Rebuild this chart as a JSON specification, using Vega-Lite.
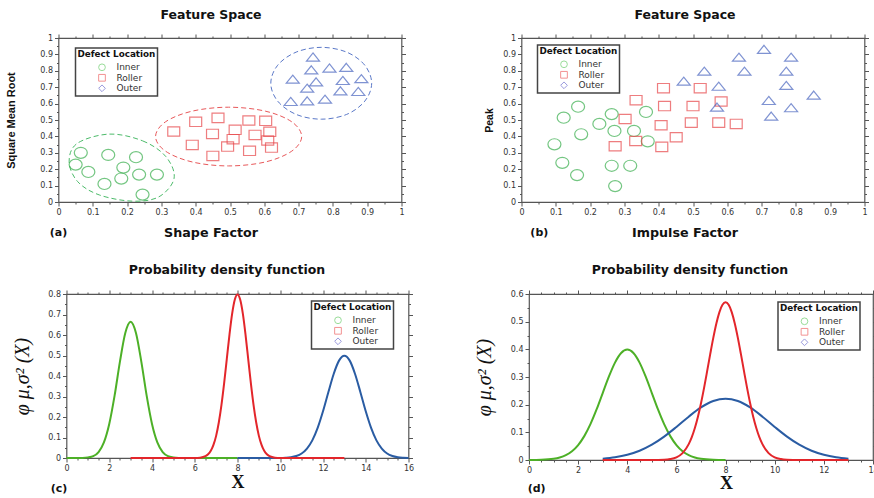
{
"$schema": "https://vega.github.io/schema/vega-lite/v6.json",
"padding": {"left": 4.5, "top": 8, "right": 0, "bottom": 0},
"background": "white",
"config": {
  "view": {"stroke": "#555", "strokeWidth": 1.2},
  "font": "DejaVu Sans",
  "axis": {"labelFont": "DejaVu Sans", "labelFontSize": 8, "labelColor": "#333", "tickColor": "#555", "tickWidth": 1, "domain": false, "grid": false, "labelOverlap": false, "labelFlush": false, "labelPadding": 2, "titleColor": "#111", "titleFontWeight": "bold"},
  "legend": {"titleFont": "DejaVu Sans", "titleFontSize": 8.8, "titleFontWeight": "bold", "titleColor": "#111", "labelFont": "DejaVu Sans", "labelFontSize": 9, "labelColor": "#333", "strokeColor": "#444", "strokeWidth": 1.5, "fillColor": "white", "padding": 2, "rowPadding": -0.5, "titlePadding": 4, "symbolSize": 45, "symbolStrokeWidth": 1, "symbolOffset": 20, "labelOffset": 10},
  "title": {"font": "DejaVu Sans", "fontSize": 12.5, "fontWeight": "bold", "color": "#111"}
},
"datasets": {
  "scatA": [
    {"loc": "Inner", "x": 0.065, "y": 0.30}, {"loc": "Inner", "x": 0.050, "y": 0.228}, {"loc": "Inner", "x": 0.087, "y": 0.183}, {"loc": "Inner", "x": 0.145, "y": 0.287}, {"loc": "Inner", "x": 0.134, "y": 0.110}, {"loc": "Inner", "x": 0.189, "y": 0.210}, {"loc": "Inner", "x": 0.183, "y": 0.143}, {"loc": "Inner", "x": 0.226, "y": 0.273}, {"loc": "Inner", "x": 0.235, "y": 0.167}, {"loc": "Inner", "x": 0.287, "y": 0.167}, {"loc": "Inner", "x": 0.245, "y": 0.045},
    {"loc": "Roller", "x": 0.336, "y": 0.430}, {"loc": "Roller", "x": 0.400, "y": 0.489}, {"loc": "Roller", "x": 0.465, "y": 0.513}, {"loc": "Roller", "x": 0.449, "y": 0.415}, {"loc": "Roller", "x": 0.390, "y": 0.348}, {"loc": "Roller", "x": 0.450, "y": 0.281}, {"loc": "Roller", "x": 0.515, "y": 0.440}, {"loc": "Roller", "x": 0.509, "y": 0.383}, {"loc": "Roller", "x": 0.493, "y": 0.338}, {"loc": "Roller", "x": 0.555, "y": 0.497}, {"loc": "Roller", "x": 0.573, "y": 0.409}, {"loc": "Roller", "x": 0.557, "y": 0.312}, {"loc": "Roller", "x": 0.604, "y": 0.495}, {"loc": "Roller", "x": 0.616, "y": 0.428}, {"loc": "Roller", "x": 0.610, "y": 0.375}, {"loc": "Roller", "x": 0.621, "y": 0.332},
    {"loc": "Outer", "x": 0.742, "y": 0.884}, {"loc": "Outer", "x": 0.737, "y": 0.806}, {"loc": "Outer", "x": 0.790, "y": 0.817}, {"loc": "Outer", "x": 0.839, "y": 0.821}, {"loc": "Outer", "x": 0.683, "y": 0.749}, {"loc": "Outer", "x": 0.751, "y": 0.733}, {"loc": "Outer", "x": 0.829, "y": 0.741}, {"loc": "Outer", "x": 0.883, "y": 0.752}, {"loc": "Outer", "x": 0.725, "y": 0.694}, {"loc": "Outer", "x": 0.822, "y": 0.678}, {"loc": "Outer", "x": 0.874, "y": 0.674}, {"loc": "Outer", "x": 0.677, "y": 0.613}, {"loc": "Outer", "x": 0.725, "y": 0.617}, {"loc": "Outer", "x": 0.777, "y": 0.627}
  ],
  "ellA": [
    {"loc": "Inner", "i": 0, "x": 0.148, "y": 0.414}, {"loc": "Inner", "i": 1, "x": 0.245, "y": 0.373}, {"loc": "Inner", "i": 2, "x": 0.313, "y": 0.277}, {"loc": "Inner", "i": 3, "x": 0.337, "y": 0.145}, {"loc": "Inner", "i": 4, "x": 0.293, "y": 0.032}, {"loc": "Inner", "i": 5, "x": 0.216, "y": 0.005}, {"loc": "Inner", "i": 6, "x": 0.119, "y": 0.043}, {"loc": "Inner", "i": 7, "x": 0.056, "y": 0.124}, {"loc": "Inner", "i": 8, "x": 0.031, "y": 0.246}, {"loc": "Inner", "i": 9, "x": 0.055, "y": 0.358},
    {"loc": "Roller", "i": 0, "x": 0.709, "y": 0.399}, {"loc": "Roller", "i": 1, "x": 0.680, "y": 0.489}, {"loc": "Roller", "i": 2, "x": 0.603, "y": 0.554}, {"loc": "Roller", "i": 3, "x": 0.496, "y": 0.578}, {"loc": "Roller", "i": 4, "x": 0.390, "y": 0.554}, {"loc": "Roller", "i": 5, "x": 0.312, "y": 0.489}, {"loc": "Roller", "i": 6, "x": 0.283, "y": 0.399}, {"loc": "Roller", "i": 7, "x": 0.312, "y": 0.310}, {"loc": "Roller", "i": 8, "x": 0.390, "y": 0.244}, {"loc": "Roller", "i": 9, "x": 0.496, "y": 0.220}, {"loc": "Roller", "i": 10, "x": 0.603, "y": 0.244}, {"loc": "Roller", "i": 11, "x": 0.680, "y": 0.310},
    {"loc": "Outer", "i": 0, "x": 0.913, "y": 0.724}, {"loc": "Outer", "i": 1, "x": 0.893, "y": 0.834}, {"loc": "Outer", "i": 2, "x": 0.840, "y": 0.914}, {"loc": "Outer", "i": 3, "x": 0.766, "y": 0.943}, {"loc": "Outer", "i": 4, "x": 0.693, "y": 0.914}, {"loc": "Outer", "i": 5, "x": 0.639, "y": 0.834}, {"loc": "Outer", "i": 6, "x": 0.619, "y": 0.724}, {"loc": "Outer", "i": 7, "x": 0.639, "y": 0.615}, {"loc": "Outer", "i": 8, "x": 0.693, "y": 0.534}, {"loc": "Outer", "i": 9, "x": 0.766, "y": 0.505}, {"loc": "Outer", "i": 10, "x": 0.840, "y": 0.534}, {"loc": "Outer", "i": 11, "x": 0.893, "y": 0.615}
  ],
  "scatB": [
    {"loc": "Inner", "x": 0.096, "y": 0.352}, {"loc": "Inner", "x": 0.123, "y": 0.514}, {"loc": "Inner", "x": 0.165, "y": 0.581}, {"loc": "Inner", "x": 0.174, "y": 0.413}, {"loc": "Inner", "x": 0.119, "y": 0.239}, {"loc": "Inner", "x": 0.162, "y": 0.164}, {"loc": "Inner", "x": 0.227, "y": 0.476}, {"loc": "Inner", "x": 0.263, "y": 0.536}, {"loc": "Inner", "x": 0.271, "y": 0.433}, {"loc": "Inner", "x": 0.328, "y": 0.433}, {"loc": "Inner", "x": 0.363, "y": 0.549}, {"loc": "Inner", "x": 0.368, "y": 0.370}, {"loc": "Inner", "x": 0.263, "y": 0.221}, {"loc": "Inner", "x": 0.317, "y": 0.221}, {"loc": "Inner", "x": 0.273, "y": 0.097},
    {"loc": "Roller", "x": 0.302, "y": 0.506}, {"loc": "Roller", "x": 0.334, "y": 0.621}, {"loc": "Roller", "x": 0.273, "y": 0.340}, {"loc": "Roller", "x": 0.333, "y": 0.372}, {"loc": "Roller", "x": 0.414, "y": 0.694}, {"loc": "Roller", "x": 0.417, "y": 0.585}, {"loc": "Roller", "x": 0.407, "y": 0.468}, {"loc": "Roller", "x": 0.409, "y": 0.336}, {"loc": "Roller", "x": 0.451, "y": 0.395}, {"loc": "Roller", "x": 0.521, "y": 0.694}, {"loc": "Roller", "x": 0.500, "y": 0.585}, {"loc": "Roller", "x": 0.495, "y": 0.484}, {"loc": "Roller", "x": 0.582, "y": 0.613}, {"loc": "Roller", "x": 0.575, "y": 0.484}, {"loc": "Roller", "x": 0.626, "y": 0.476},
    {"loc": "Outer", "x": 0.473, "y": 0.737}, {"loc": "Outer", "x": 0.533, "y": 0.798}, {"loc": "Outer", "x": 0.575, "y": 0.706}, {"loc": "Outer", "x": 0.570, "y": 0.579}, {"loc": "Outer", "x": 0.634, "y": 0.883}, {"loc": "Outer", "x": 0.650, "y": 0.798}, {"loc": "Outer", "x": 0.707, "y": 0.931}, {"loc": "Outer", "x": 0.786, "y": 0.883}, {"loc": "Outer", "x": 0.772, "y": 0.798}, {"loc": "Outer", "x": 0.772, "y": 0.711}, {"loc": "Outer", "x": 0.721, "y": 0.619}, {"loc": "Outer", "x": 0.728, "y": 0.524}, {"loc": "Outer", "x": 0.786, "y": 0.575}, {"loc": "Outer", "x": 0.852, "y": 0.652}
  ],
  "pdfC": [
    {"loc": "Inner", "x": 0, "y": 0}, {"loc": "Inner", "x": 0.5, "y": 0}, {"loc": "Inner", "x": 0.75, "y": 0.0006}, {"loc": "Inner", "x": 1, "y": 0.003}, {"loc": "Inner", "x": 1.25, "y": 0.009}, {"loc": "Inner", "x": 1.5, "y": 0.029}, {"loc": "Inner", "x": 1.75, "y": 0.076}, {"loc": "Inner", "x": 2, "y": 0.166}, {"loc": "Inner", "x": 2.25, "y": 0.304}, {"loc": "Inner", "x": 2.5, "y": 0.470}, {"loc": "Inner", "x": 2.75, "y": 0.610}, {"loc": "Inner", "x": 3, "y": 0.665}, {"loc": "Inner", "x": 3.25, "y": 0.610}, {"loc": "Inner", "x": 3.5, "y": 0.470}, {"loc": "Inner", "x": 3.75, "y": 0.304}, {"loc": "Inner", "x": 4, "y": 0.166}, {"loc": "Inner", "x": 4.25, "y": 0.076}, {"loc": "Inner", "x": 4.5, "y": 0.029}, {"loc": "Inner", "x": 4.75, "y": 0.009}, {"loc": "Inner", "x": 5, "y": 0.003}, {"loc": "Inner", "x": 5.25, "y": 0.0006}, {"loc": "Inner", "x": 5.5, "y": 0}, {"loc": "Inner", "x": 6, "y": 0}, {"loc": "Inner", "x": 7, "y": 0}, {"loc": "Inner", "x": 8, "y": 0},
    {"loc": "Outer", "x": 8, "y": 0}, {"loc": "Outer", "x": 9, "y": 0}, {"loc": "Outer", "x": 9.5, "y": 0.0001}, {"loc": "Outer", "x": 10, "y": 0.0004}, {"loc": "Outer", "x": 10.25, "y": 0.0014}, {"loc": "Outer", "x": 10.5, "y": 0.0038}, {"loc": "Outer", "x": 10.75, "y": 0.0096}, {"loc": "Outer", "x": 11, "y": 0.022}, {"loc": "Outer", "x": 11.25, "y": 0.046}, {"loc": "Outer", "x": 11.5, "y": 0.086}, {"loc": "Outer", "x": 11.75, "y": 0.147}, {"loc": "Outer", "x": 12, "y": 0.228}, {"loc": "Outer", "x": 12.25, "y": 0.321}, {"loc": "Outer", "x": 12.5, "y": 0.410}, {"loc": "Outer", "x": 12.75, "y": 0.475}, {"loc": "Outer", "x": 13, "y": 0.499}, {"loc": "Outer", "x": 13.25, "y": 0.475}, {"loc": "Outer", "x": 13.5, "y": 0.410}, {"loc": "Outer", "x": 13.75, "y": 0.321}, {"loc": "Outer", "x": 14, "y": 0.228}, {"loc": "Outer", "x": 14.25, "y": 0.147}, {"loc": "Outer", "x": 14.5, "y": 0.086}, {"loc": "Outer", "x": 14.75, "y": 0.046}, {"loc": "Outer", "x": 15, "y": 0.022}, {"loc": "Outer", "x": 15.25, "y": 0.0096}, {"loc": "Outer", "x": 15.5, "y": 0.0038}, {"loc": "Outer", "x": 15.75, "y": 0.0014}, {"loc": "Outer", "x": 16, "y": 0.0004},
    {"loc": "Roller", "x": 3, "y": 0}, {"loc": "Roller", "x": 4, "y": 0}, {"loc": "Roller", "x": 5, "y": 0}, {"loc": "Roller", "x": 6, "y": 0.0003}, {"loc": "Roller", "x": 6.25, "y": 0.0017}, {"loc": "Roller", "x": 6.5, "y": 0.0089}, {"loc": "Roller", "x": 6.625, "y": 0.018}, {"loc": "Roller", "x": 6.75, "y": 0.035}, {"loc": "Roller", "x": 6.875, "y": 0.064}, {"loc": "Roller", "x": 7, "y": 0.108}, {"loc": "Roller", "x": 7.125, "y": 0.173}, {"loc": "Roller", "x": 7.25, "y": 0.259}, {"loc": "Roller", "x": 7.375, "y": 0.365}, {"loc": "Roller", "x": 7.5, "y": 0.484}, {"loc": "Roller", "x": 7.625, "y": 0.602}, {"loc": "Roller", "x": 7.75, "y": 0.704}, {"loc": "Roller", "x": 7.875, "y": 0.773}, {"loc": "Roller", "x": 8, "y": 0.798}, {"loc": "Roller", "x": 8.125, "y": 0.773}, {"loc": "Roller", "x": 8.25, "y": 0.704}, {"loc": "Roller", "x": 8.375, "y": 0.602}, {"loc": "Roller", "x": 8.5, "y": 0.484}, {"loc": "Roller", "x": 8.625, "y": 0.365}, {"loc": "Roller", "x": 8.75, "y": 0.259}, {"loc": "Roller", "x": 8.875, "y": 0.173}, {"loc": "Roller", "x": 9, "y": 0.108}, {"loc": "Roller", "x": 9.125, "y": 0.064}, {"loc": "Roller", "x": 9.25, "y": 0.035}, {"loc": "Roller", "x": 9.375, "y": 0.018}, {"loc": "Roller", "x": 9.5, "y": 0.0089}, {"loc": "Roller", "x": 9.75, "y": 0.0017}, {"loc": "Roller", "x": 10, "y": 0.0003}, {"loc": "Roller", "x": 11, "y": 0}, {"loc": "Roller", "x": 12, "y": 0}, {"loc": "Roller", "x": 13, "y": 0}
  ],
  "pdfD": [
    {"loc": "Inner", "x": 0, "y": 0.0001}, {"loc": "Inner", "x": 0.5, "y": 0.0009}, {"loc": "Inner", "x": 1, "y": 0.0044}, {"loc": "Inner", "x": 1.25, "y": 0.0091}, {"loc": "Inner", "x": 1.5, "y": 0.0175}, {"loc": "Inner", "x": 1.75, "y": 0.0317}, {"loc": "Inner", "x": 2, "y": 0.054}, {"loc": "Inner", "x": 2.25, "y": 0.0863}, {"loc": "Inner", "x": 2.5, "y": 0.1295}, {"loc": "Inner", "x": 2.75, "y": 0.1826}, {"loc": "Inner", "x": 3, "y": 0.242}, {"loc": "Inner", "x": 3.25, "y": 0.3011}, {"loc": "Inner", "x": 3.5, "y": 0.352}, {"loc": "Inner", "x": 3.75, "y": 0.3867}, {"loc": "Inner", "x": 4, "y": 0.399}, {"loc": "Inner", "x": 4.25, "y": 0.3867}, {"loc": "Inner", "x": 4.5, "y": 0.352}, {"loc": "Inner", "x": 4.75, "y": 0.3011}, {"loc": "Inner", "x": 5, "y": 0.242}, {"loc": "Inner", "x": 5.25, "y": 0.1826}, {"loc": "Inner", "x": 5.5, "y": 0.1295}, {"loc": "Inner", "x": 5.75, "y": 0.0863}, {"loc": "Inner", "x": 6, "y": 0.054}, {"loc": "Inner", "x": 6.25, "y": 0.0317}, {"loc": "Inner", "x": 6.5, "y": 0.0175}, {"loc": "Inner", "x": 6.75, "y": 0.0091}, {"loc": "Inner", "x": 7, "y": 0.0044}, {"loc": "Inner", "x": 7.5, "y": 0.0009}, {"loc": "Inner", "x": 8, "y": 0.0001},
    {"loc": "Outer", "x": 3, "y": 0.0047}, {"loc": "Outer", "x": 3.5, "y": 0.0097}, {"loc": "Outer", "x": 4, "y": 0.0188}, {"loc": "Outer", "x": 4.5, "y": 0.0335}, {"loc": "Outer", "x": 5, "y": 0.0553}, {"loc": "Outer", "x": 5.5, "y": 0.0845}, {"loc": "Outer", "x": 6, "y": 0.1195}, {"loc": "Outer", "x": 6.5, "y": 0.1566}, {"loc": "Outer", "x": 7, "y": 0.1899}, {"loc": "Outer", "x": 7.5, "y": 0.2132}, {"loc": "Outer", "x": 8, "y": 0.2216}, {"loc": "Outer", "x": 8.5, "y": 0.2132}, {"loc": "Outer", "x": 9, "y": 0.1899}, {"loc": "Outer", "x": 9.5, "y": 0.1566}, {"loc": "Outer", "x": 10, "y": 0.1195}, {"loc": "Outer", "x": 10.5, "y": 0.0845}, {"loc": "Outer", "x": 11, "y": 0.0553}, {"loc": "Outer", "x": 11.5, "y": 0.0335}, {"loc": "Outer", "x": 12, "y": 0.0188}, {"loc": "Outer", "x": 12.5, "y": 0.0097}, {"loc": "Outer", "x": 13, "y": 0.0047},
    {"loc": "Roller", "x": 3, "y": 0}, {"loc": "Roller", "x": 4, "y": 0}, {"loc": "Roller", "x": 5, "y": 0.0001}, {"loc": "Roller", "x": 5.5, "y": 0.001}, {"loc": "Roller", "x": 5.75, "y": 0.0033}, {"loc": "Roller", "x": 6, "y": 0.0096}, {"loc": "Roller", "x": 6.25, "y": 0.025}, {"loc": "Roller", "x": 6.5, "y": 0.0574}, {"loc": "Roller", "x": 6.625, "y": 0.0828}, {"loc": "Roller", "x": 6.75, "y": 0.1158}, {"loc": "Roller", "x": 6.875, "y": 0.1567}, {"loc": "Roller", "x": 7, "y": 0.2054}, {"loc": "Roller", "x": 7.125, "y": 0.2609}, {"loc": "Roller", "x": 7.25, "y": 0.321}, {"loc": "Roller", "x": 7.375, "y": 0.3826}, {"loc": "Roller", "x": 7.5, "y": 0.4416}, {"loc": "Roller", "x": 7.625, "y": 0.4937}, {"loc": "Roller", "x": 7.75, "y": 0.5347}, {"loc": "Roller", "x": 7.875, "y": 0.5609}, {"loc": "Roller", "x": 8, "y": 0.5699}, {"loc": "Roller", "x": 8.125, "y": 0.5609}, {"loc": "Roller", "x": 8.25, "y": 0.5347}, {"loc": "Roller", "x": 8.375, "y": 0.4937}, {"loc": "Roller", "x": 8.5, "y": 0.4416}, {"loc": "Roller", "x": 8.625, "y": 0.3826}, {"loc": "Roller", "x": 8.75, "y": 0.321}, {"loc": "Roller", "x": 8.875, "y": 0.2609}, {"loc": "Roller", "x": 9, "y": 0.2054}, {"loc": "Roller", "x": 9.125, "y": 0.1567}, {"loc": "Roller", "x": 9.25, "y": 0.1158}, {"loc": "Roller", "x": 9.375, "y": 0.0828}, {"loc": "Roller", "x": 9.5, "y": 0.0574}, {"loc": "Roller", "x": 9.75, "y": 0.025}, {"loc": "Roller", "x": 10, "y": 0.0096}, {"loc": "Roller", "x": 10.25, "y": 0.0033}, {"loc": "Roller", "x": 10.5, "y": 0.001}, {"loc": "Roller", "x": 11, "y": 0.0001}, {"loc": "Roller", "x": 12, "y": 0}, {"loc": "Roller", "x": 13, "y": 0}
  ]
},
"columns": 1,
"align": "none",
"spacing": 23,
"concat": [
  {"spacing": 76, "hconcat": [
    {"width": 343, "height": 164,
     "title": {"text": "Feature Space", "offset": 12, "dx": -19},
     "resolve": {"scale": {"shape": "independent", "stroke": "independent"}, "axis": {"x": "independent", "y": "independent"}},
     "layer": [
       {"data": {"name": "ellA"},
        "mark": {"type": "line", "interpolate": "cardinal-closed", "strokeDash": [5, 3], "strokeWidth": 1},
        "encoding": {
          "x": {"field": "x", "type": "quantitative", "scale": {"domain": [0, 1], "nice": false}, "axis": {"orient": "top", "values": [0,0.05,0.1,0.15,0.2,0.25,0.3,0.35,0.4,0.45,0.5,0.55,0.6,0.65,0.7,0.75,0.8,0.85,0.9,0.95,1], "labels": false, "title": null, "tickSize": {"condition": {"test": "abs(datum.value*10-round(datum.value*10))>0.001", "value": 2}, "value": 4}}},
          "y": {"field": "y", "type": "quantitative", "scale": {"domain": [0, 1], "nice": false}, "axis": {"orient": "right", "values": [0,0.05,0.1,0.15,0.2,0.25,0.3,0.35,0.4,0.45,0.5,0.55,0.6,0.65,0.7,0.75,0.8,0.85,0.9,0.95,1], "labels": false, "title": null, "tickSize": {"condition": {"test": "abs(datum.value*10-round(datum.value*10))>0.001", "value": 2}, "value": 4}}},
          "stroke": {"field": "loc", "type": "nominal", "scale": {"domain": ["Inner", "Roller", "Outer"], "range": ["#4cbb6a", "#e8585a", "#5a78c8"]}, "legend": null},
          "order": {"field": "i", "type": "quantitative"}
        }},
       {"data": {"name": "scatA"},
        "mark": {"type": "point", "filled": false, "strokeWidth": 1.2, "size": 169},
        "encoding": {
          "x": {"field": "x", "type": "quantitative", "scale": {"domain": [0, 1], "nice": false}, "axis": {"orient": "bottom", "values": [0,0.05,0.1,0.15,0.2,0.25,0.3,0.35,0.4,0.45,0.5,0.55,0.6,0.65,0.7,0.75,0.8,0.85,0.9,0.95,1], "format": "~g", "labelExpr": "abs(datum.value*10-round(datum.value*10))>0.001 ? '' : datum.label", "tickSize": {"condition": {"test": "abs(datum.value*10-round(datum.value*10))>0.001", "value": 2}, "value": 4}, "title": "Shape Factor", "titleFont": "DejaVu Sans", "titleFontSize": 12.7, "titlePadding": 10, "titleX": 152}},
          "y": {"field": "y", "type": "quantitative", "scale": {"domain": [0, 1], "nice": false}, "axis": {"orient": "left", "values": [0,0.05,0.1,0.15,0.2,0.25,0.3,0.35,0.4,0.45,0.5,0.55,0.6,0.65,0.7,0.75,0.8,0.85,0.9,0.95,1], "format": "~g", "labelExpr": "abs(datum.value*10-round(datum.value*10))>0.001 ? '' : datum.label", "tickSize": {"condition": {"test": "abs(datum.value*10-round(datum.value*10))>0.001", "value": 2}, "value": 4}, "title": "Square Mean Root", "titleFont": "Liberation Sans", "titleFontSize": 11, "titlePadding": 23.5}},
          "shape": {"field": "loc", "type": "nominal", "scale": {"domain": ["Inner", "Roller", "Outer"], "range": ["M-1,0A1,0.85,0,1,1,1,0A1,0.85,0,1,1,-1,0Z", "M-0.92,-0.72H0.92V0.72H-0.92Z", "M0,-0.62L1,0.62L-1,0.62Z"]}, "legend": null},
          "stroke": {"field": "loc", "type": "nominal", "scale": {"domain": ["Inner", "Roller", "Outer"], "range": ["#3aaf4e", "#e8474a", "#4a66c0"]}, "legend": null}
        }},
       {"data": {"values": []},
        "mark": {"type": "point", "filled": false, "strokeWidth": 1},
        "encoding": {
          "shape": {"field": "loc", "type": "nominal", "scale": {"domain": ["Inner", "Roller", "Outer"], "range": ["circle", "square", "diamond"]}, "legend": {"title": "Defect Location", "orient": "none", "legendX": 17, "legendY": 10}},
          "stroke": {"field": "loc", "type": "nominal", "scale": {"domain": ["Inner", "Roller", "Outer"], "range": ["#6fcf6f", "#ee6666", "#7070d0"]}, "legend": {"title": "Defect Location", "orient": "none", "legendX": 17, "legendY": 10}}
        }},
       {"data": {"values": [{}]},
        "mark": {"type": "text", "font": "DejaVu Sans", "fontSize": 11, "fontWeight": "bold", "color": "#111", "baseline": "middle"},
        "encoding": {
          "x": {"datum": 0, "type": "quantitative", "scale": {"domain": [0, 1], "nice": false}, "axis": null},
          "y": {"datum": -0.19, "type": "quantitative", "scale": {"domain": [0, 1], "nice": false}, "axis": null},
          "text": {"value": "(a)"}
        }}
     ]},
    {"width": 343, "height": 164,
     "title": {"text": "Feature Space", "offset": 12, "dx": -8},
     "resolve": {"scale": {"shape": "independent", "stroke": "independent"}, "axis": {"x": "independent", "y": "independent"}},
     "layer": [
       {"data": {"name": "scatB"},
        "mark": {"type": "point", "filled": false, "strokeWidth": 1.2, "size": 169},
        "encoding": {
          "x": {"field": "x", "type": "quantitative", "scale": {"domain": [0, 1], "nice": false}, "axis": {"orient": "bottom", "values": [0,0.05,0.1,0.15,0.2,0.25,0.3,0.35,0.4,0.45,0.5,0.55,0.6,0.65,0.7,0.75,0.8,0.85,0.9,0.95,1], "format": "~g", "labelExpr": "abs(datum.value*10-round(datum.value*10))>0.001 ? '' : datum.label", "tickSize": {"condition": {"test": "abs(datum.value*10-round(datum.value*10))>0.001", "value": 2}, "value": 4}, "title": "Impulse Factor", "titleFont": "DejaVu Sans", "titleFontSize": 12.7, "titlePadding": 10, "titleX": 163}},
          "y": {"field": "y", "type": "quantitative", "scale": {"domain": [0, 1], "nice": false}, "axis": {"orient": "left", "values": [0,0.05,0.1,0.15,0.2,0.25,0.3,0.35,0.4,0.45,0.5,0.55,0.6,0.65,0.7,0.75,0.8,0.85,0.9,0.95,1], "format": "~g", "labelExpr": "abs(datum.value*10-round(datum.value*10))>0.001 ? '' : datum.label", "tickSize": {"condition": {"test": "abs(datum.value*10-round(datum.value*10))>0.001", "value": 2}, "value": 4}, "title": "Peak", "titleFont": "Liberation Sans", "titleFontSize": 10.5, "titlePadding": 8}},
          "shape": {"field": "loc", "type": "nominal", "scale": {"domain": ["Inner", "Roller", "Outer"], "range": ["M-1,0A1,0.85,0,1,1,1,0A1,0.85,0,1,1,-1,0Z", "M-0.92,-0.72H0.92V0.72H-0.92Z", "M0,-0.62L1,0.62L-1,0.62Z"]}, "legend": null},
          "stroke": {"field": "loc", "type": "nominal", "scale": {"domain": ["Inner", "Roller", "Outer"], "range": ["#3aaf4e", "#e8474a", "#4a66c0"]}, "legend": null}
        }},
       {"data": {"values": []},
        "mark": {"type": "point", "filled": false, "strokeWidth": 1},
        "encoding": {
          "x": {"field": "x", "type": "quantitative", "scale": {"domain": [0, 1], "nice": false}, "axis": {"orient": "top", "values": [0,0.05,0.1,0.15,0.2,0.25,0.3,0.35,0.4,0.45,0.5,0.55,0.6,0.65,0.7,0.75,0.8,0.85,0.9,0.95,1], "labels": false, "title": null, "tickSize": {"condition": {"test": "abs(datum.value*10-round(datum.value*10))>0.001", "value": 2}, "value": 4}}},
          "y": {"field": "y", "type": "quantitative", "scale": {"domain": [0, 1], "nice": false}, "axis": {"orient": "right", "values": [0,0.05,0.1,0.15,0.2,0.25,0.3,0.35,0.4,0.45,0.5,0.55,0.6,0.65,0.7,0.75,0.8,0.85,0.9,0.95,1], "labels": false, "title": null, "tickSize": {"condition": {"test": "abs(datum.value*10-round(datum.value*10))>0.001", "value": 2}, "value": 4}}},
          "shape": {"field": "loc", "type": "nominal", "scale": {"domain": ["Inner", "Roller", "Outer"], "range": ["circle", "square", "diamond"]}, "legend": {"title": "Defect Location", "orient": "none", "legendX": 16, "legendY": 7}},
          "stroke": {"field": "loc", "type": "nominal", "scale": {"domain": ["Inner", "Roller", "Outer"], "range": ["#6fcf6f", "#ee6666", "#7070d0"]}, "legend": {"title": "Defect Location", "orient": "none", "legendX": 16, "legendY": 7}}
        }},
       {"data": {"values": [{}]},
        "mark": {"type": "text", "font": "DejaVu Sans", "fontSize": 11, "fontWeight": "bold", "color": "#111", "baseline": "middle"},
        "encoding": {
          "x": {"datum": 0.052, "type": "quantitative", "scale": {"domain": [0, 1], "nice": false}, "axis": null},
          "y": {"datum": -0.19, "type": "quantitative", "scale": {"domain": [0, 1], "nice": false}, "axis": null},
          "text": {"value": "(b)"}
        }}
     ]}
  ]},
  {"spacing": -54, "hconcat": [
    {"width": 7, "height": 1, "data": {"values": []}, "mark": "point", "view": {"stroke": null}},
    {"spacing": 59.5, "hconcat": [
      {"width": 342, "height": 164,
       "title": {"text": "Probability density function", "offset": 13, "dx": -10.5},
       "resolve": {"scale": {"shape": "independent", "stroke": "independent"}, "axis": {"x": "independent", "y": "independent"}},
       "layer": [
         {"data": {"name": "pdfC"},
          "mark": {"type": "line", "interpolate": "monotone", "strokeWidth": 2},
          "encoding": {
            "x": {"field": "x", "type": "quantitative", "scale": {"domain": [0, 16], "nice": false}, "axis": {"orient": "bottom", "values": [0,0.5,1,1.5,2,2.5,3,3.5,4,4.5,5,5.5,6,6.5,7,7.5,8,8.5,9,9.5,10,10.5,11,11.5,12,12.5,13,13.5,14,14.5,15,15.5,16], "format": "~g", "labelExpr": "datum.value%2!=0 ? '' : datum.label", "tickSize": {"condition": {"test": "datum.value%2!=0", "value": 2}, "value": 4}, "title": "X", "titleFont": "Liberation Serif", "titleFontSize": 18, "titlePadding": 1}},
            "y": {"field": "y", "type": "quantitative", "scale": {"domain": [0, 0.8], "nice": false}, "axis": {"orient": "left", "values": [0,0.05,0.1,0.15,0.2,0.25,0.3,0.35,0.4,0.45,0.5,0.55,0.6,0.65,0.7,0.75,0.8], "format": "~g", "labelExpr": "abs(datum.value*10-round(datum.value*10))>0.001 ? '' : datum.label", "tickSize": {"condition": {"test": "abs(datum.value*10-round(datum.value*10))>0.001", "value": 2}, "value": 4}, "title": "φ μ,σ² (X)", "titleFont": "Liberation Serif", "titleFontStyle": "italic", "titleFontWeight": "normal", "titleFontSize": 20, "titlePadding": 15.5}},
            "stroke": {"field": "loc", "type": "nominal", "scale": {"domain": ["Inner", "Roller", "Outer"], "range": ["#4db027", "#e3262b", "#2a5ca3"]}, "legend": null}
          }},
         {"data": {"values": []},
          "mark": {"type": "point", "filled": false, "strokeWidth": 1},
          "encoding": {
            "x": {"field": "x", "type": "quantitative", "scale": {"domain": [0, 16], "nice": false}, "axis": {"orient": "top", "values": [0,0.5,1,1.5,2,2.5,3,3.5,4,4.5,5,5.5,6,6.5,7,7.5,8,8.5,9,9.5,10,10.5,11,11.5,12,12.5,13,13.5,14,14.5,15,15.5,16], "labels": false, "title": null, "tickSize": {"condition": {"test": "datum.value%2!=0", "value": 2}, "value": 4}}},
            "y": {"field": "y", "type": "quantitative", "scale": {"domain": [0, 0.8], "nice": false}, "axis": {"orient": "right", "values": [0,0.05,0.1,0.15,0.2,0.25,0.3,0.35,0.4,0.45,0.5,0.55,0.6,0.65,0.7,0.75,0.8], "labels": false, "title": null, "tickSize": {"condition": {"test": "abs(datum.value*10-round(datum.value*10))>0.001", "value": 2}, "value": 4}}},
            "shape": {"field": "loc", "type": "nominal", "scale": {"domain": ["Inner", "Roller", "Outer"], "range": ["circle", "square", "diamond"]}, "legend": {"title": "Defect Location", "orient": "none", "legendX": 245, "legendY": 7}},
            "stroke": {"field": "loc", "type": "nominal", "scale": {"domain": ["Inner", "Roller", "Outer"], "range": ["#6fcf6f", "#ee6666", "#7070d0"]}, "legend": {"title": "Defect Location", "orient": "none", "legendX": 245, "legendY": 7}}
          }},
         {"data": {"values": [{}]},
          "mark": {"type": "text", "font": "DejaVu Sans", "fontSize": 11, "fontWeight": "bold", "color": "#111", "baseline": "middle"},
          "encoding": {
            "x": {"datum": -0.35, "type": "quantitative", "scale": {"domain": [0, 16], "nice": false}, "axis": null},
            "y": {"datum": -0.1515, "type": "quantitative", "scale": {"domain": [0, 0.8], "nice": false}, "axis": null},
            "text": {"value": "(c)"}
          }}
       ]},
      {"width": 344, "height": 166,
       "title": {"text": "Probability density function", "offset": 13, "dx": -11},
       "resolve": {"scale": {"shape": "independent", "stroke": "independent"}, "axis": {"x": "independent", "y": "independent"}},
       "layer": [
         {"data": {"name": "pdfD"},
          "mark": {"type": "line", "interpolate": "monotone", "strokeWidth": 2},
          "encoding": {
            "x": {"field": "x", "type": "quantitative", "scale": {"domain": [0, 14], "nice": false}, "axis": {"orient": "bottom", "values": [0,0.5,1,1.5,2,2.5,3,3.5,4,4.5,5,5.5,6,6.5,7,7.5,8,8.5,9,9.5,10,10.5,11,11.5,12,12.5,13,13.5,14], "format": "~g", "labelExpr": "datum.value%2!=0 ? '' : datum.label", "tickSize": {"condition": {"test": "datum.value%2!=0", "value": 2}, "value": 4}, "title": "X", "titleFont": "Liberation Serif", "titleFontSize": 18, "titlePadding": 0, "titleX": 197}},
            "y": {"field": "y", "type": "quantitative", "scale": {"domain": [0, 0.6], "nice": false}, "axis": {"orient": "left", "values": [0,0.05,0.1,0.15,0.2,0.25,0.3,0.35,0.4,0.45,0.5,0.55,0.6], "format": "~g", "labelExpr": "abs(datum.value*10-round(datum.value*10))>0.001 ? '' : datum.label", "tickSize": {"condition": {"test": "abs(datum.value*10-round(datum.value*10))>0.001", "value": 2}, "value": 4}, "title": "φ μ,σ² (X)", "titleFont": "Liberation Serif", "titleFontStyle": "italic", "titleFontWeight": "normal", "titleFontSize": 20, "titlePadding": 15.5}},
            "stroke": {"field": "loc", "type": "nominal", "scale": {"domain": ["Inner", "Roller", "Outer"], "range": ["#4db027", "#e3262b", "#2a5ca3"]}, "legend": null}
          }},
         {"data": {"values": []},
          "mark": {"type": "point", "filled": false, "strokeWidth": 1},
          "encoding": {
            "x": {"field": "x", "type": "quantitative", "scale": {"domain": [0, 14], "nice": false}, "axis": {"orient": "top", "values": [0,0.5,1,1.5,2,2.5,3,3.5,4,4.5,5,5.5,6,6.5,7,7.5,8,8.5,9,9.5,10,10.5,11,11.5,12,12.5,13,13.5,14], "labels": false, "title": null, "tickSize": {"condition": {"test": "datum.value%2!=0", "value": 2}, "value": 4}}},
            "y": {"field": "y", "type": "quantitative", "scale": {"domain": [0, 0.6], "nice": false}, "axis": {"orient": "right", "values": [0,0.05,0.1,0.15,0.2,0.25,0.3,0.35,0.4,0.45,0.5,0.55,0.6], "labels": false, "title": null, "tickSize": {"condition": {"test": "abs(datum.value*10-round(datum.value*10))>0.001", "value": 2}, "value": 4}}},
            "shape": {"field": "loc", "type": "nominal", "scale": {"domain": ["Inner", "Roller", "Outer"], "range": ["circle", "square", "diamond"]}, "legend": {"title": "Defect Location", "orient": "none", "legendX": 249, "legendY": 8}},
            "stroke": {"field": "loc", "type": "nominal", "scale": {"domain": ["Inner", "Roller", "Outer"], "range": ["#6fcf6f", "#ee6666", "#7070d0"]}, "legend": {"title": "Defect Location", "orient": "none", "legendX": 249, "legendY": 8}}
          }},
         {"data": {"values": [{}]},
          "mark": {"type": "text", "font": "DejaVu Sans", "fontSize": 11, "fontWeight": "bold", "color": "#111", "baseline": "middle"},
          "encoding": {
            "x": {"datum": 0.31, "type": "quantitative", "scale": {"domain": [0, 14], "nice": false}, "axis": null},
            "y": {"datum": -0.105, "type": "quantitative", "scale": {"domain": [0, 0.6], "nice": false}, "axis": null},
            "text": {"value": "(d)"}
          }}
       ]}
    ]}
  ]}
]
}
